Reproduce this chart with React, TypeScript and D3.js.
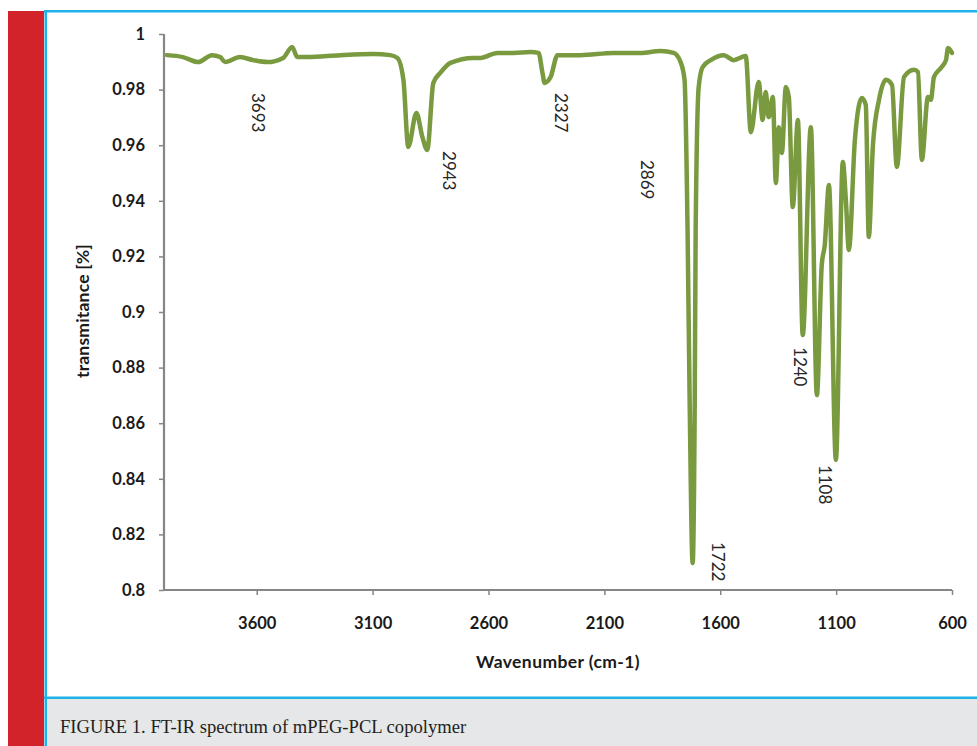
import React, { useEffect, useRef } from 'react';
import * as d3 from 'd3';

// spectrum (wavenumber in cm-1, transmittance)
const wavenumber = [
  3987, 3918, 3853, 3793, 3758, 3736, 3672, 3615, 3555, 3486, 3447, 3425, 3382, 3240, 3097, 3024,
  2993, 2967, 2946, 2911, 2885, 2864, 2838, 2808, 2764, 2665, 2635, 2561, 2492, 2419, 2384, 2367,
  2358, 2332, 2302, 2203, 2060, 1944, 1857, 1801, 1771, 1754, 1741, 1732, 1719, 1710, 1706, 1693,
  1676, 1641, 1585, 1542, 1490, 1468, 1434, 1417, 1404, 1391, 1373, 1360, 1347, 1334, 1317, 1304,
  1287, 1265, 1244, 1209, 1183, 1162, 1149, 1131, 1101, 1071, 1058, 1045, 1019, 989, 972, 959,
  941, 915, 885, 859, 838, 807, 764, 747, 730, 704, 691, 678, 648, 626, 617, 600,
];
const transmittance = [
  0.9924, 0.9917, 0.9899, 0.9924, 0.9917, 0.9899, 0.9917, 0.9906, 0.9899, 0.9914, 0.9953, 0.9917,
  0.9917, 0.9924, 0.9928, 0.9924, 0.9914, 0.9835, 0.9594, 0.9716, 0.9629, 0.9583, 0.9824, 0.986,
  0.9896, 0.9914, 0.9914, 0.9932, 0.9932, 0.9935, 0.9932, 0.986, 0.9824, 0.9845, 0.9924, 0.9924,
  0.9932, 0.9932, 0.9939, 0.9932, 0.9899, 0.9835, 0.9295, 0.8683, 0.8097, 0.8683, 0.9295, 0.9809,
  0.9881, 0.9906, 0.9924, 0.9906, 0.9921, 0.9647, 0.9827, 0.9691, 0.9791, 0.9701, 0.9773, 0.9464,
  0.9665, 0.9572, 0.9809, 0.9773, 0.9378, 0.9691, 0.8917, 0.9665, 0.8701, 0.9169, 0.9241, 0.9457,
  0.8468, 0.954, 0.9403, 0.9223, 0.9619, 0.977, 0.9745, 0.927, 0.9601, 0.9763, 0.9835, 0.9817,
  0.9522, 0.9845, 0.9871, 0.9863, 0.9547, 0.9773, 0.9763, 0.9845, 0.9878, 0.9906, 0.995, 0.9932,
];

const xTicks = [3600, 3100, 2600, 2100, 1600, 1100, 600];
const yTicks = [1, 0.98, 0.96, 0.94, 0.92, 0.9, 0.88, 0.86, 0.84, 0.82, 0.8];
const yTickLabels = ['1', '0.98', '0.96', '0.94', '0.92', '0.9', '0.88', '0.86', '0.84', '0.82', '0.8'];

// peak annotations, anchored in data space
const peakNames = ['3693', '2943', '2327', '2869', '1722', '1240', '1108'];
const peakWn = [3620, 2795, 2311, 1944, 1637, 1283, 1175];
const peakT = [0.9788, 0.9579, 0.9788, 0.9547, 0.8173, 0.8874, 0.845];

const W = 977;
const H = 746;
const font = 'Lato, "Open Sans", sans-serif';

const App: React.FC = () => {
  const ref = useRef<SVGSVGElement>(null);

  useEffect(() => {
    if (ref.current) draw(ref.current);
  }, []);

  return (
    <svg
      ref={ref}
      width={W}
      height={H}
      style={{ position: 'absolute', left: 0, top: 0, background: '#fff' }}
    />
  );
};

const draw = (el: SVGSVGElement) => {
  const svg = d3.select(el);
  svg.selectAll('*').remove();

  const blue = '#1fb2ea';

  // page frame
  svg.append('rect').attr('x', 8).attr('y', 11).attr('width', 36).attr('height', H - 11).attr('fill', '#d2232a');
  svg.append('rect').attr('x', 44).attr('y', 10).attr('width', W - 44).attr('height', 2.5).attr('fill', blue);
  svg.append('rect').attr('x', 44.5).attr('y', 10).attr('width', 2.5).attr('height', H - 10).attr('fill', blue);
  svg.append('rect').attr('x', 47).attr('y', 699).attr('width', W - 47).attr('height', H - 699).attr('fill', '#e6e7e8');
  svg.append('rect').attr('x', 44).attr('y', 696.5).attr('width', W - 44).attr('height', 2.5).attr('fill', blue);

  svg
    .append('text')
    .attr('x', 60)
    .attr('y', 733)
    .attr('fill', '#231f20')
    .style('font-family', '"Liberation Serif", "DejaVu Serif", serif')
    .style('font-size', '18.6px')
    .text('FIGURE 1. FT-IR spectrum of mPEG-PCL copolymer');

  // chart
  const x = d3.scaleLinear().domain([4000, 600]).range([164, 952]);
  const y = d3.scaleLinear().domain([0.8, 1]).range([590, 34]);

  const axisColor = '#868686';

  const yAxis = svg
    .append('g')
    .attr('transform', 'translate(164,0)')
    .call(
      d3
        .axisLeft(y)
        .tickValues(yTicks)
        .tickSize(5)
        .tickPadding(14)
        .tickFormat((_d, i) => yTickLabels[i]),
    );
  const xAxis = svg
    .append('g')
    .attr('transform', 'translate(0,590)')
    .call(d3.axisBottom(x).tickValues(xTicks).tickSize(5).tickPadding(22).tickFormat(d3.format('d')));

  [yAxis, xAxis].forEach((g) => {
    g.select('.domain').attr('stroke', axisColor).attr('stroke-width', 2.2);
    g.selectAll('.tick line').attr('stroke', axisColor).attr('stroke-width', 1.5);
    g.selectAll('text')
      .attr('fill', '#1a1a1a')
      .style('font-family', font)
      .style('font-size', '16.5px')
      .style('font-weight', 700);
  });
  yAxis.select('.domain').attr('d', 'M0,34V590');
  xAxis.select('.domain').attr('d', 'M164,0H952');

  svg
    .append('text')
    .attr('x', 558)
    .attr('y', 668)
    .attr('text-anchor', 'middle')
    .attr('fill', '#1a1a1a')
    .style('font-family', font)
    .style('font-size', '17.5px')
    .style('letter-spacing', '0.4px')
    .style('font-weight', 700)
    .text('Wavenumber (cm-1)');

  svg
    .append('text')
    .attr('transform', 'translate(89,311) rotate(-90)')
    .attr('text-anchor', 'middle')
    .attr('fill', '#1a1a1a')
    .style('font-family', font)
    .style('font-size', '17.5px')
    .style('letter-spacing', '0.2px')
    .style('font-weight', 700)
    .text('transmitance [%]');

  const pts = wavenumber.map((w, i) => [w, transmittance[i]] as [number, number]);
  const line = d3
    .line<[number, number]>()
    .x((d) => x(d[0]))
    .y((d) => y(d[1]))
    .curve(d3.curveMonotoneX);

  svg
    .append('path')
    .datum(pts)
    .attr('d', line)
    .attr('fill', 'none')
    .attr('stroke', '#7a9a40')
    .attr('stroke-width', 4.5)
    .attr('stroke-linejoin', 'round')
    .attr('stroke-linecap', 'round');

  svg
    .append('g')
    .selectAll('text')
    .data(peakNames)
    .enter()
    .append('text')
    .attr('transform', (_d, i) => `translate(${x(peakWn[i])},${y(peakT[i])}) rotate(90)`)
    .attr('fill', '#262626')
    .style('font-family', font)
    .style('font-size', '17px')
    .text((d) => d);
};

export default App;
